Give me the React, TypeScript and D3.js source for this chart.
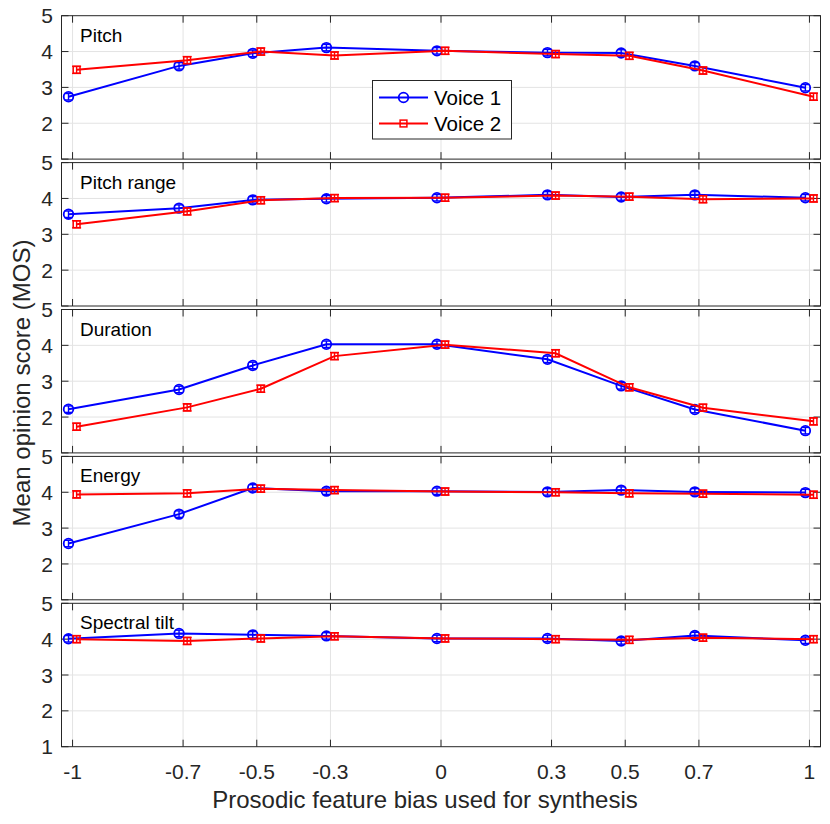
import React from "react";
import * as d3 from "d3";

const biases = [-1, -0.7, -0.5, -0.3, 0, 0.3, 0.5, 0.7, 1];
const xTickLabels = ["-1", "-0.7", "-0.5", "-0.3", "0", "0.3", "0.5", "0.7", "1"];
const panelTitles = ["Pitch", "Pitch range", "Duration", "Energy", "Spectral tilt"];
const seriesNames = ["Voice 1", "Voice 2"];

const pitchV1 = [2.74, 3.6, 3.95, 4.11, 4.02, 3.97, 3.96, 3.6, 2.99];
const pitchV2 = [3.49, 3.76, 4.0, 3.89, 4.02, 3.93, 3.88, 3.47, 2.74];
const rangeV1 = [3.56, 3.73, 3.96, 3.99, 4.02, 4.1, 4.04, 4.1, 4.02];
const rangeV2 = [3.28, 3.64, 3.95, 4.01, 4.02, 4.08, 4.05, 3.98, 4.0];
const durationV1 = [2.22, 2.77, 3.44, 4.03, 4.03, 3.61, 2.87, 2.21, 1.62];
const durationV2 = [1.73, 2.27, 2.79, 3.7, 4.02, 3.78, 2.83, 2.26, 1.88];
const energyV1 = [2.57, 3.39, 4.12, 4.03, 4.03, 4.01, 4.06, 4.01, 3.99];
const energyV2 = [3.94, 3.97, 4.1, 4.06, 4.02, 4.0, 3.97, 3.96, 3.93];
const tiltV1 = [4.01, 4.16, 4.12, 4.09, 4.02, 4.02, 3.95, 4.1, 3.97];
const tiltV2 = [4.0, 3.95, 4.02, 4.08, 4.02, 4.0, 3.98, 4.04, 4.0];

const errV1 = 0.09;
const errV2 = 0.1;

const panelsV1 = [pitchV1, rangeV1, durationV1, energyV1, tiltV1];
const panelsV2 = [pitchV2, rangeV2, durationV2, energyV2, tiltV2];

const yTicks = [1, 2, 3, 4, 5];

const W = 830;
const H = 824;
const FONT = "'Liberation Sans', Arial, Helvetica, sans-serif";
const AX = "#262626";
const GRID = "#e3e3e3";
const BLUE = "#0000ff";
const RED = "#ff0000";

export default function App() {
  const x = d3.scaleLinear().domain([-1.03, 1.03]).range([61.5, 820.5]);
  const panelTop0 = 15.7;
  const panelStep = 146.9;
  const panelH = 143.4;
  const tickLen = 7;
  const off = 0.011;

  const line = (ys: d3.ScaleLinear<number, number>, dx: number) =>
    d3
      .line<number>()
      .x((_, i) => x(biases[i] + dx))
      .y((v) => ys(v));

  const panels = panelTitles.map((title, p) => {
    const top = panelTop0 + p * panelStep;
    const y = d3.scaleLinear().domain([1, 5]).range([top + panelH, top]);
    const last = p === panelTitles.length - 1;
    const v1 = panelsV1[p];
    const v2 = panelsV2[p];
    const x0 = x.range()[0];
    const x1 = x.range()[1];
    return (
      <g key={title}>
        <rect x={x0} y={top} width={x1 - x0} height={panelH} fill="#fff" />
        {biases.map((b) => (
          <line key={"gx" + b} x1={x(b)} x2={x(b)} y1={top} y2={top + panelH} stroke={GRID} strokeWidth={1} />
        ))}
        {yTicks.slice(1, 4).map((t) => (
          <line key={"gy" + t} x1={x0} x2={x1} y1={y(t)} y2={y(t)} stroke={GRID} strokeWidth={1} />
        ))}
        {biases.map((b) => (
          <g key={"tx" + b}>
            <line x1={x(b)} x2={x(b)} y1={top + panelH} y2={top + panelH - tickLen} stroke={AX} />
            <line x1={x(b)} x2={x(b)} y1={top} y2={top + tickLen} stroke={AX} />
          </g>
        ))}
        {yTicks.map((t) => (
          <g key={"ty" + t}>
            <line x1={x0} x2={x0 + tickLen} y1={y(t)} y2={y(t)} stroke={AX} />
            <line x1={x1} x2={x1 - tickLen} y1={y(t)} y2={y(t)} stroke={AX} />
          </g>
        ))}
        {yTicks
          .filter((t) => last || t > 1)
          .map((t) => (
            <text
              key={"yl" + t}
              x={53}
              y={y(t)}
              dy="0.36em"
              textAnchor="end"
              fontSize={21}
              fontFamily={FONT}
              fill={AX}
            >
              {t}
            </text>
          ))}
        {last &&
          biases.map((b, i) => (
            <text
              key={"xl" + b}
              x={x(b)}
              y={top + panelH + 32.5}
              textAnchor="middle"
              fontSize={21}
              fontFamily={FONT}
              fill={AX}
            >
              {xTickLabels[i]}
            </text>
          ))}
        <path d={line(y, -off)(v1) ?? ""} fill="none" stroke={BLUE} strokeWidth={2} />
        {v1.map((v, i) => {
          const cx = x(biases[i] - off);
          return (
            <g key={"m1" + i} stroke={BLUE} fill="none" strokeWidth={1.4}>
              <line x1={cx} x2={cx} y1={y(v - errV1)} y2={y(v + errV1)} />
              <line x1={cx - 4} x2={cx + 4} y1={y(v - errV1)} y2={y(v - errV1)} />
              <line x1={cx - 4} x2={cx + 4} y1={y(v + errV1)} y2={y(v + errV1)} />
              <circle cx={cx} cy={y(v)} r={4.8} strokeWidth={1.8} />
            </g>
          );
        })}
        <path d={line(y, off)(v2) ?? ""} fill="none" stroke={RED} strokeWidth={2} />
        {v2.map((v, i) => {
          const cx = x(biases[i] + off);
          return (
            <g key={"m2" + i} stroke={RED} fill="none" strokeWidth={1.4}>
              <line x1={cx} x2={cx} y1={y(v - errV2)} y2={y(v + errV2)} />
              <line x1={cx - 4.5} x2={cx + 4.5} y1={y(v - errV2)} y2={y(v - errV2)} />
              <line x1={cx - 4.5} x2={cx + 4.5} y1={y(v + errV2)} y2={y(v + errV2)} />
              <rect x={cx - 3.4} y={y(v) - 3.4} width={6.8} height={6.8} strokeWidth={1.5} />
            </g>
          );
        })}
        <rect x={x0} y={top} width={x1 - x0} height={panelH} fill="none" stroke={AX} strokeWidth={1} />
        <text x={80} y={top + 26} fontSize={19} fontFamily={FONT} fill="#000">
          {title}
        </text>
      </g>
    );
  });

  return (
    <svg width={W} height={H} style={{ position: "absolute", left: 0, top: 0 }}>
      <rect width={W} height={H} fill="#fff" />
      {panels}
      <g>
        <rect x={372.5} y={80.5} width={139} height={58.5} fill="#fff" stroke={AX} strokeWidth={1} />
        {seriesNames.map((name, i) => {
          const ly = 97.5 + i * 26;
          const col = i === 0 ? BLUE : RED;
          return (
            <g key={name}>
              <line x1={379} x2={428} y1={ly} y2={ly} stroke={col} strokeWidth={2} />
              {i === 0 ? (
                <circle cx={403.5} cy={ly} r={4.8} fill="none" stroke={col} strokeWidth={1.8} />
              ) : (
                <rect x={400.1} y={ly - 3.4} width={6.8} height={6.8} fill="none" stroke={col} strokeWidth={1.5} />
              )}
              <text x={434} y={ly} dy="0.36em" fontSize={20.5} fontFamily={FONT} fill="#000">
                {name}
              </text>
            </g>
          );
        })}
      </g>
      <text
        transform={`translate(30, 383) rotate(-90)`}
        textAnchor="middle"
        fontSize={24}
        fontFamily={FONT}
        fill={AX}
      >
        Mean opinion score (MOS)
      </text>
      <text x={425} y={808} textAnchor="middle" fontSize={24} fontFamily={FONT} fill={AX}>
        Prosodic feature bias used for synthesis
      </text>
    </svg>
  );
}
